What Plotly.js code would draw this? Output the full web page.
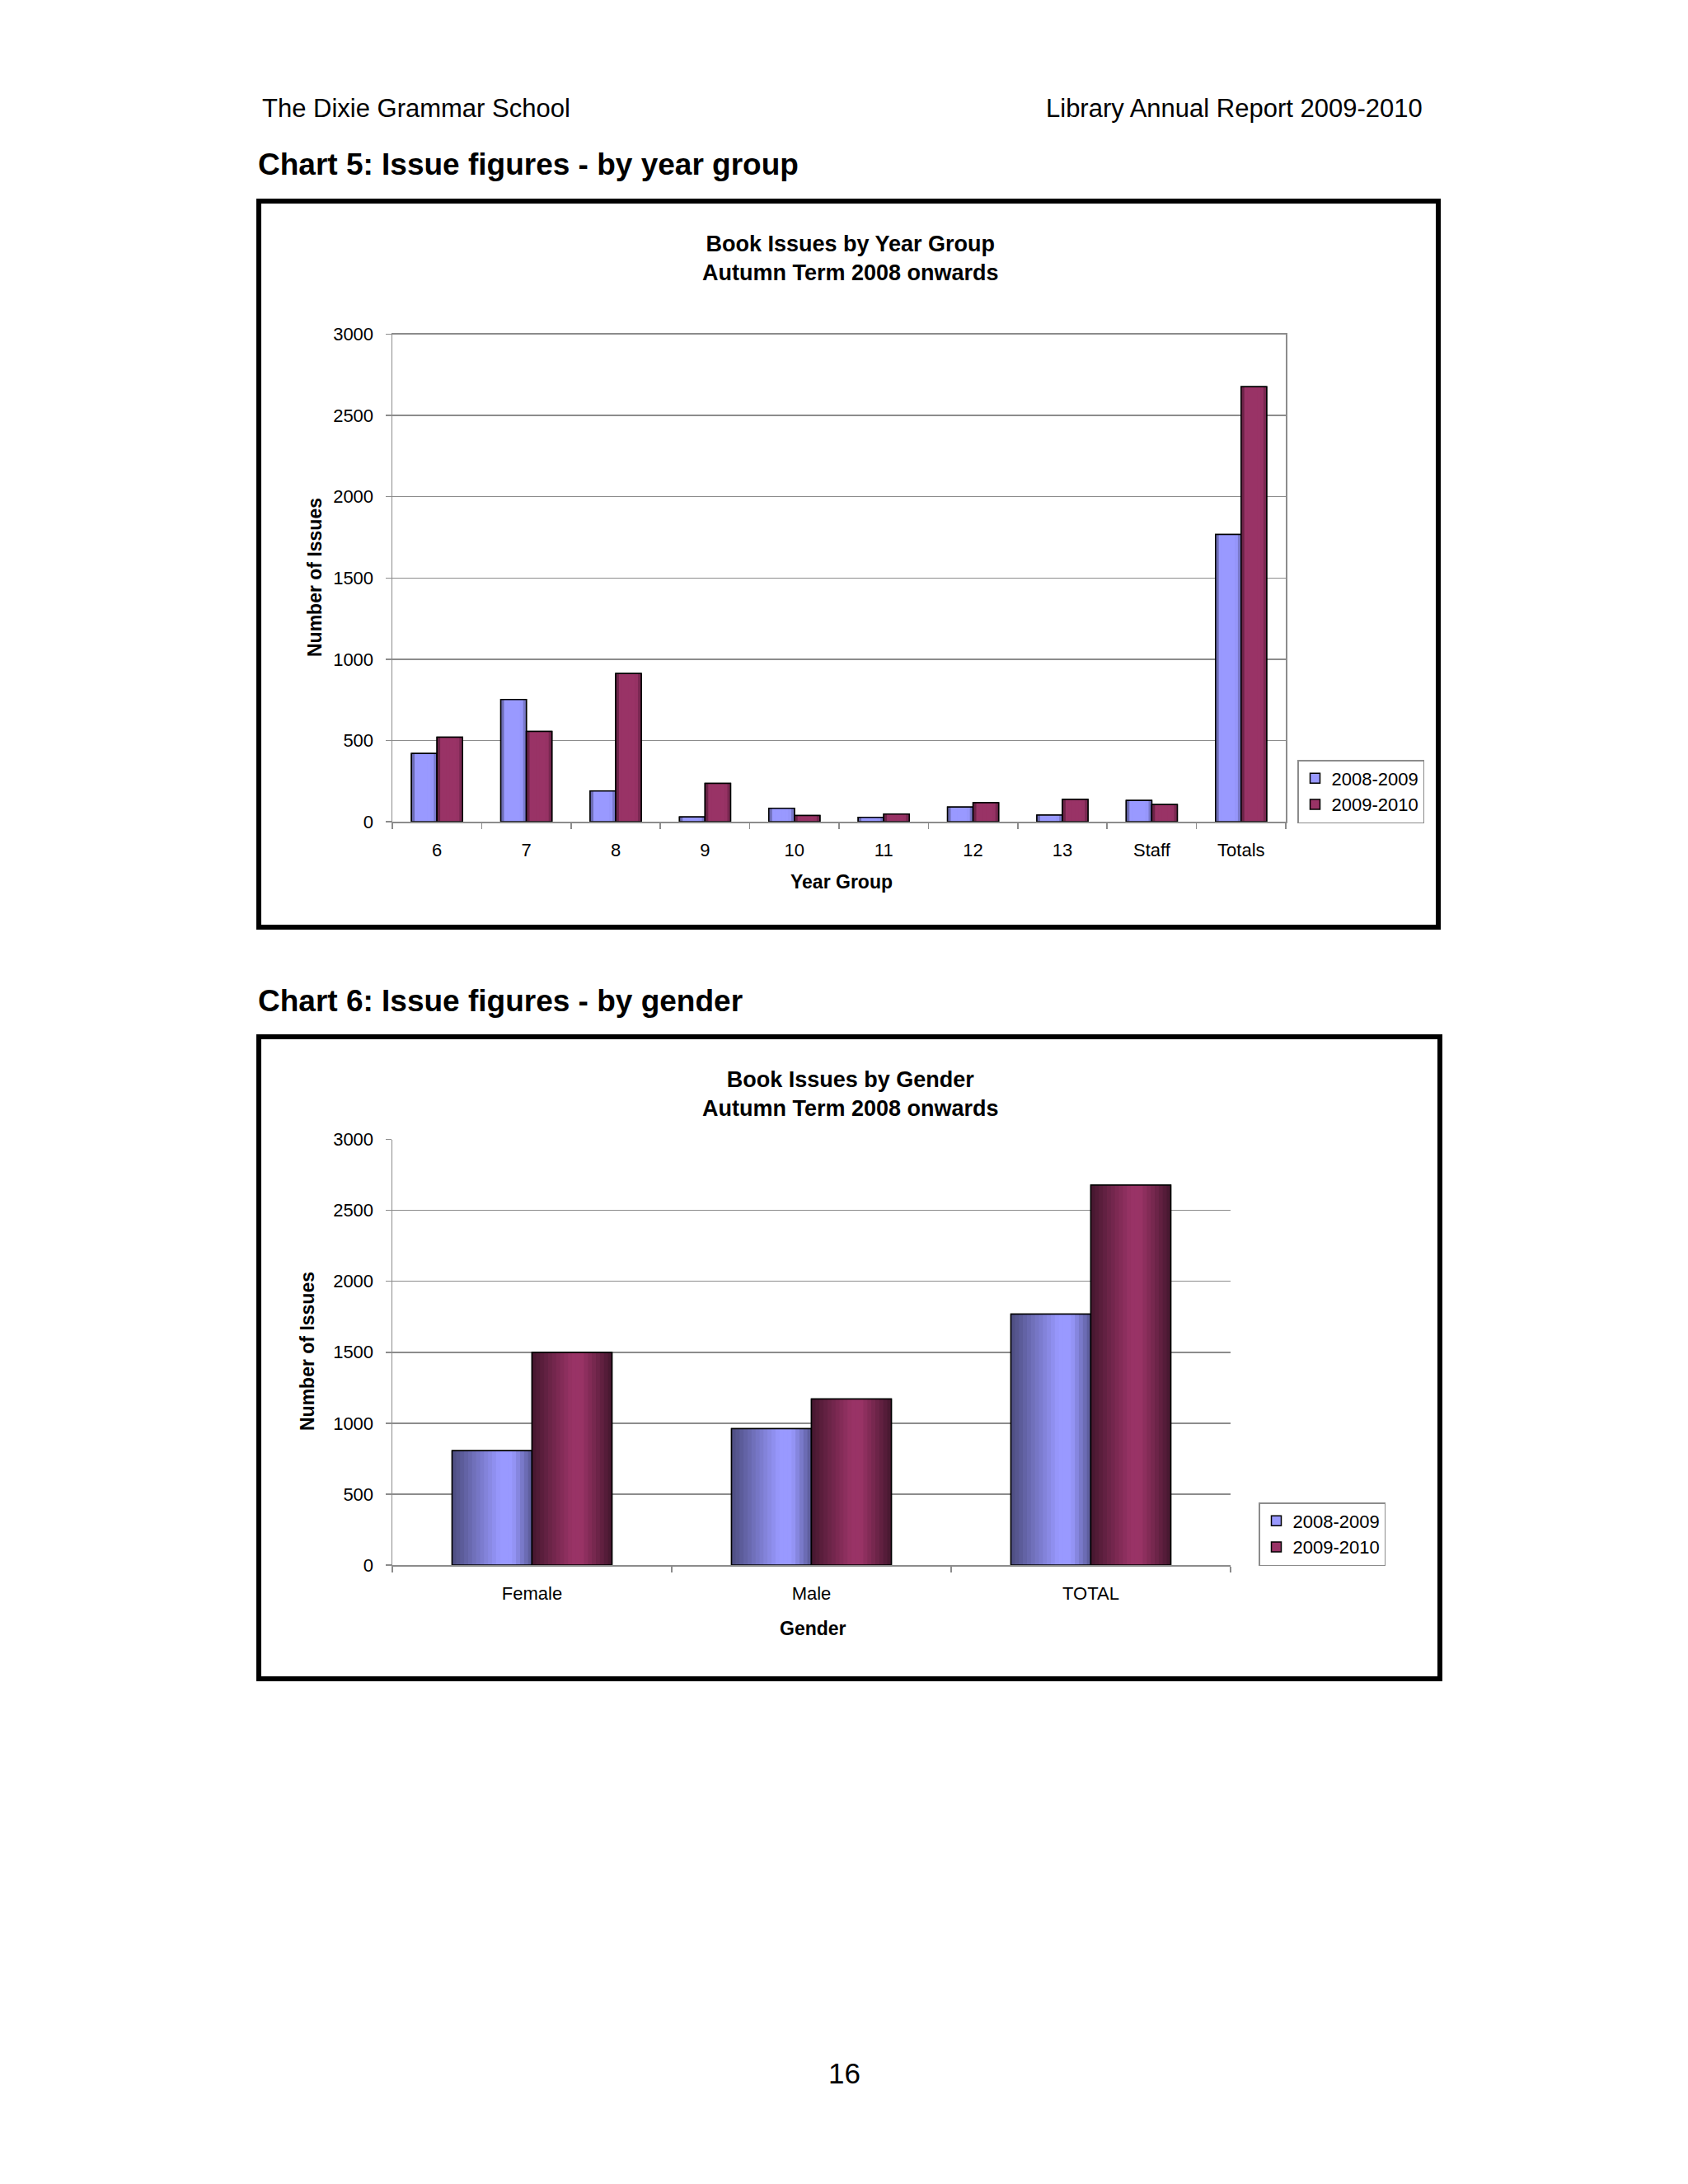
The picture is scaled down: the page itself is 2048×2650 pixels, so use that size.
<!DOCTYPE html>
<html>
<head>
<meta charset="utf-8">
<script src="https://cdn.plot.ly/plotly-3.0.1.min.js"></script>
<style>
  body { margin: 0; background: #fff; }
  #plot { width: 2048px; height: 2650px; }
</style>
</head>
<body>
<div id="plot"></div>
<script>
// values
const seriesNames = ['2008-2009', '2009-2010']
const yearGroups = ['6', '7', '8', '9', '10', '11', '12', '13', 'Staff', 'Totals']
const yearIssues0809 = [420, 752, 189, 29, 82, 26, 90, 41, 131, 1768]
const yearIssues0910 = [520, 556, 912, 236, 38, 47, 117, 137, 105, 2677]
const genders = ['Female', 'Male', 'TOTAL']
const genderIssues0809 = [806, 962, 1768]
const genderIssues0910 = [1498, 1170, 2677]

const W = 2048, H = 2650
const px = x => x / W
const py = y => 1 - y / H
const FONT = '"Liberation Sans", Arial, sans-serif'
const colors = ['#9999ff', '#993366']

function shade(hex, f) {
  let r = parseInt(hex.slice(1, 3), 16), g = parseInt(hex.slice(3, 5), 16), b = parseInt(hex.slice(5, 7), 16)
  return 'rgb(' + Math.round(r * f) + ',' + Math.round(g * f) + ',' + Math.round(b * f) + ')'
}

function profileAt(profile, t) {
  for (let i = 1; i < profile.length; i++) {
    let [t0, f0] = profile[i - 1], [t1, f1] = profile[i]
    if (t <= t1) return f0 + (f1 - f0) * (t - t0) / (t1 - t0)
  }
  return profile[profile.length - 1][1]
}

// a bar series drawn as a base bar, thin shaded strips on top, and an outline
function shadedBars(cats, vals, name, color, axes, legend, offset, width, profile, n) {
  let common = { type: 'bar', x: cats, y: vals, xaxis: axes[0], yaxis: axes[1], legend: legend, hoverinfo: 'skip' }
  let traces = []
  traces.push(Object.assign({}, common, {
    name: name, showlegend: true, offset: offset, width: width,
    marker: { color: color, line: { color: '#000', width: 1.5 } }
  }))
  let step = width / n
  for (let k = 0; k < n; k++) {
    let f = profileAt(profile, (k + 0.5) / n)
    traces.push(Object.assign({}, common, {
      name: name, showlegend: false, offset: offset + k * step,
      width: k == n - 1 ? step : step * 1.25,
      marker: { color: shade(color, f), line: { width: 0 } }
    }))
  }
  traces.push(Object.assign({}, common, {
    name: name, showlegend: false, offset: offset, width: width,
    marker: { color: 'rgba(0,0,0,0)', line: { color: '#000', width: 1.5 } }
  }))
  return traces
}

const BW = 0.286
const flatProfile = [[0, 0.55], [0.18, 1], [0.8, 1], [1, 0.7]]
const roundProfiles = [
  [[0, 0.5], [0.6, 1], [0.75, 1], [1, 0.58]],
  [[0, 0.45], [0.5, 1], [0.62, 1], [1, 0.45]]
]

let data = []
data = data.concat(shadedBars(yearGroups, yearIssues0809, seriesNames[0], colors[0], ['x', 'y'], 'legend', -BW, BW, flatProfile, 8))
data = data.concat(shadedBars(yearGroups, yearIssues0910, seriesNames[1], colors[1], ['x', 'y'], 'legend', 0, BW, flatProfile, 8))
data = data.concat(shadedBars(genders, genderIssues0809, seriesNames[0], colors[0], ['x2', 'y2'], 'legend2', -BW, BW, roundProfiles[0], 20))
data = data.concat(shadedBars(genders, genderIssues0910, seriesNames[1], colors[1], ['x2', 'y2'], 'legend2', 0, BW, roundProfiles[1], 20))

const GRID = '#8c8c8c'

function xAxis(domain, anchor, mirror) {
  return {
    domain: domain, anchor: anchor, type: 'category',
    tickson: 'boundaries', ticks: 'outside', ticklen: 7, tickcolor: GRID, tickwidth: 1.5,
    showline: true, linecolor: GRID, linewidth: 1.5, mirror: mirror,
    showgrid: false, ticklabelstandoff: 14,
    tickfont: { family: FONT, size: 22, color: '#000' }, fixedrange: true
  }
}

function yAxis(domain, anchor, mirror) {
  return {
    domain: domain, anchor: anchor, range: [0, 3000], dtick: 500,
    ticks: 'outside', ticklen: 7, tickcolor: GRID, tickwidth: 1.5,
    showline: true, linecolor: GRID, linewidth: 1.5, mirror: mirror,
    showgrid: true, gridcolor: GRID, gridwidth: 1.5, zeroline: false,
    ticklabelstandoff: 10,
    tickfont: { family: FONT, size: 22, color: '#000' }, fixedrange: true
  }
}

function legendAt(x, y) {
  return {
    x: px(x), y: py(y), xanchor: 'left', yanchor: 'top',
    bgcolor: '#fff', bordercolor: GRID, borderwidth: 1.5,
    font: { family: FONT, size: 22, color: '#000' }, itemwidth: 30, traceorder: 'normal'
  }
}

function text(t, x, y, size, opts) {
  return Object.assign({
    text: t, x: px(x), y: py(y), xref: 'paper', yref: 'paper', showarrow: false,
    xanchor: 'center', yanchor: 'middle',
    font: { family: FONT, size: size, color: '#000' }
  }, opts || {})
}

let layout = {
  width: W, height: H,
  margin: { l: 0, r: 0, t: 0, b: 0 },
  paper_bgcolor: '#fff', plot_bgcolor: '#fff',
  barmode: 'overlay',
  font: { family: FONT, color: '#000' },
  xaxis: xAxis([px(476), px(1560)], 'y', true),
  yaxis: yAxis([py(997), py(405.6)], 'x', true),
  xaxis2: xAxis([px(476), px(1493)], 'y2', false),
  yaxis2: yAxis([py(1899), py(1382.5)], 'x2', false),
  legend: legendAt(1574, 922),
  legend2: legendAt(1527, 1823),
  shapes: [
    { type: 'rect', xref: 'paper', yref: 'paper', x0: px(314), x1: px(1745), y0: py(244), y1: py(1125), line: { color: '#000', width: 6 } },
    { type: 'rect', xref: 'paper', yref: 'paper', x0: px(314), x1: px(1747), y0: py(1258), y1: py(2037), line: { color: '#000', width: 6 } }
  ],
  annotations: [
    text('The Dixie Grammar School', 316, 131, 31, { xanchor: 'left' }),
    text('Library Annual Report 2009-2010', 1728, 131, 31, { xanchor: 'right' }),
    text('<b>Chart 5: Issue figures - by year group</b>', 311, 199, 37, { xanchor: 'left' }),
    text('<b>Chart 6: Issue figures - by gender</b>', 311, 1214, 37, { xanchor: 'left' }),
    text('<b>Book Issues by Year Group<br>Autumn Term 2008 onwards</b>', 1032, 313, 27),
    text('<b>Book Issues by Gender<br>Autumn Term 2008 onwards</b>', 1032, 1327, 27),
    text('<b>Year Group</b>', 1021, 1070, 23),
    text('<b>Number of Issues</b>', 382, 701, 23, { textangle: -90 }),
    text('<b>Gender</b>', 986, 1976, 23),
    text('<b>Number of Issues</b>', 373, 1640, 23, { textangle: -90 }),
    text('16', 1024, 2515, 35)
  ]
}

Plotly.newPlot('plot', data, layout, { staticPlot: true })
</script>
</body>
</html>
